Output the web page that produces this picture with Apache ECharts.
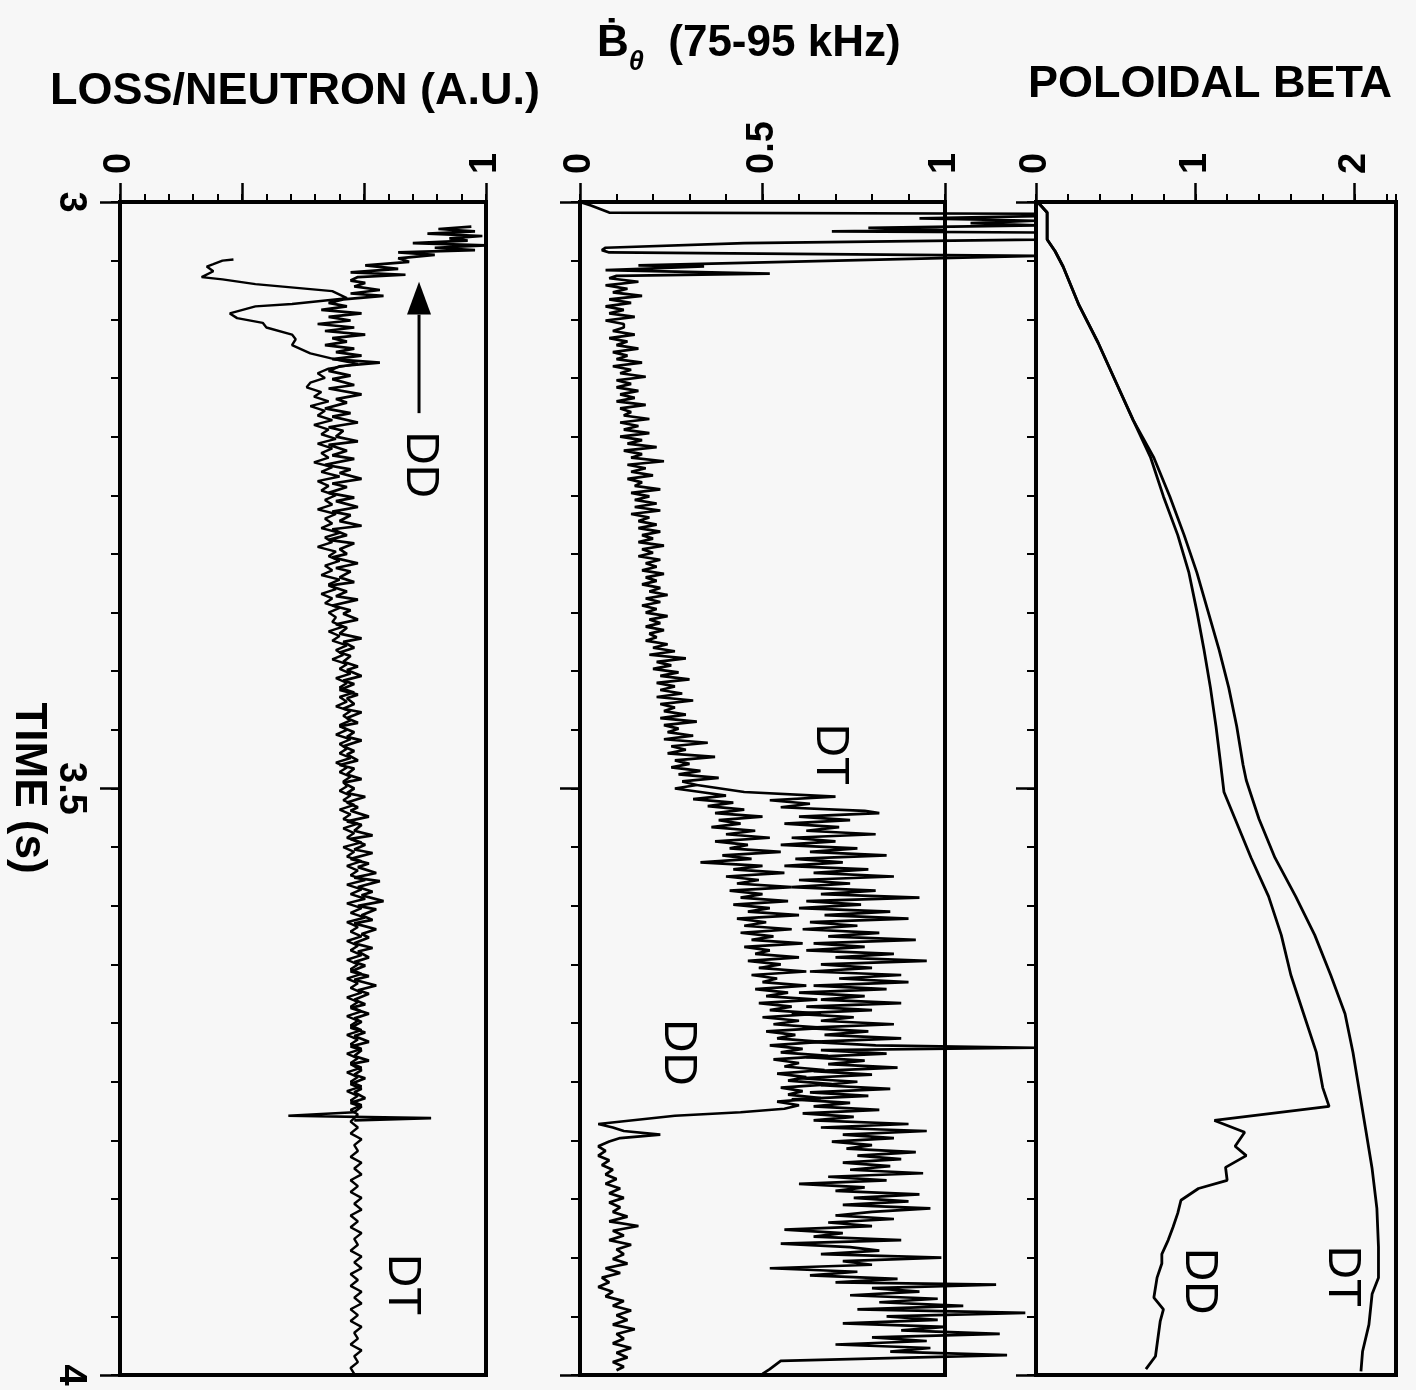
<!DOCTYPE html>
<html><head><meta charset="utf-8">
<script src="https://cdn.jsdelivr.net/npm/echarts@6/dist/echarts.min.js"></script>
<style>html,body{margin:0;padding:0;background:#f7f7f7}#c{width:1416px;height:1390px}</style>
</head><body><div id="c"></div>
<script>
// ---- titles / tick labels ----
const panelTitles = ['LOSS/NEUTRON (A.U.)', '(75-95 kHz)', 'POLOIDAL BETA'];
const timeLabelTicks = [3000, 3500, 4000];           // ms -> labelled 3, 3.5, 4
const lossMajorTicks = [0, 1/3, 2/3, 1];
const lossLabelTicks = [0, 1];
const bdotMajorTicks = [0, 0.5, 1];
const betaMajorTicks = [0, 1, 2];

// ---- data: [time (ms), value] ----
const lossDD = [[3021,.96],[3023,.87],[3025,.97],[3027,.84],[3029,.99],[3031,.90],[3033,.95],[3035,.80],[3037,1.0],[3039,.86],[3041,.97],[3043,.76],[3045,.86],[3048,.76],[3051,.79],[3054,.67],[3057,.76],[3060,.63],[3062,.78],[3064,.65],[3067,.63],[3069,.67],[3072,.64],[3075,.71],[3078,.63],[3080,.72],[3083,.61],[3086,.57],
[3089,.62],[3092,.55],[3095,.66],[3098,.57],[3101,.63],[3104,.54],[3107,.64],[3110,.56],[3113,.67],[3116,.58],[3119,.62],[3122,.56],[3125,.64],[3128,.59],[3131,.66],[3134,.58],[3137,.71],[3140,.60],[3144,.57],[3148,.63],[3151,.58],[3156,.64],[3159,.57],[3164,.66],[3168,.59],[3171,.62],[3176,.56],[3180,.63],[3183,.58],[3188,.65],[3192,.57],[3195,.61],[3200,.59],[3204,.65],[3207,.57],[3212,.62],[3216,.58],[3219,.64],[3224,.56],[3228,.63],[3231,.60],[3236,.66],[3240,.58],[3243,.62],[3248,.57],[3252,.64],[3255,.59],[3260,.65],[3264,.58],[3267,.63],[3272,.60],[3276,.66],[3279,.58],[3284,.62],[3288,.57],[3291,.64],[3296,.60],[3300,.62],[3303,.58],[3308,.65],[3312,.59],[3315,.63],[3320,.60],[3324,.64],[3327,.57],[3332,.62],[3336,.59],[3339,.65],[3344,.58],[3348,.63],[3351,.61],[3356,.65],[3360,.59],[3363,.62],[3368,.60],[3372,.66],[3375,.61],[3380,.64],[3384,.60],[3387,.63],[3392,.61],[3396,.65],[3399,.62],[3404,.66],[3408,.61],[3411,.64],[3416,.60],[3420,.65],[3423,.62],[3428,.64],[3432,.61],[3435,.66],[3440,.62],[3444,.65],[3447,.60],[3452,.64],[3456,.62],[3459,.66],[3464,.61],[3468,.64],[3471,.62],[3476,.65],[3480,.60],[3483,.64],[3488,.62],[3492,.66],[3495,.61],[3500,.64],[3504,.62],[3507,.67],[3512,.62],[3516,.65],[3519,.63],[3524,.68],[3528,.62],[3531,.66],[3536,.64],[3540,.69],[3543,.63],[3548,.67],[3552,.64],[3555,.69],[3560,.63],[3564,.68],[3567,.65],[3572,.70],[3576,.64],[3579,.71],[3584,.65],[3588,.69],[3591,.66],[3596,.72],[3600,.65],[3603,.70],[3608,.66],[3612,.69],[3615,.64],[3620,.70],[3624,.66],[3627,.68],[3632,.64],[3636,.69],[3639,.65],[3644,.68],[3648,.64],[3651,.67],[3656,.63],[3660,.68],[3663,.64],[3668,.70],[3672,.65],[3675,.68],[3680,.64],[3684,.67],[3687,.63],[3692,.68],[3696,.64],[3699,.66],[3704,.63],[3708,.67],[3711,.64],[3716,.68],[3720,.63],[3723,.66],[3728,.64],[3732,.68],[3735,.63],[3740,.66],[3744,.64],[3747,.67],[3752,.63],[3756,.66],[3759,.64],[3764,.67],[3768,.63],[3771,.66],[3776,.64],[3779,.46],[3781,.85],[3783,.64]];

const lossDT = [[3049,.31],[3050,.28],[3053,.255],[3055,.237],[3059,.255],[3064,.223],[3066,.28],[3070,.37],[3076,.58],[3082,.62],[3087,.47],[3089,.37],[3095,.30],[3099,.32],[3103,.39],[3107,.40],[3113,.47],[3117,.48],[3122,.47],[3129,.52],[3135,.60],[3138,.65],[3142,.57],[3146,.54],[3150,.56],[3154,.52],[3158,.51],[3162,.55],[3166,.53],[3170,.57],[3174,.52],[3178,.56],[3182,.54],[3186,.58],[3190,.53],[3194,.57],[3198,.55],[3202,.59],[3206,.54],[3210,.58],[3214,.55],[3218,.57],[3222,.53],[3226,.58],[3230,.55],[3234,.60],[3238,.54],[3242,.57],[3246,.55],[3250,.59],[3254,.56],[3258,.58],[3262,.54],[3266,.59],[3270,.56],[3274,.58],[3278,.55],[3282,.60],[3286,.56],[3290,.58],[3294,.54],[3298,.59],[3302,.57],[3306,.60],[3310,.56],[3314,.58],[3318,.55],[3322,.60],[3326,.57],[3330,.59],[3334,.55],[3338,.58],[3342,.56],[3346,.60],[3350,.57],[3354,.59],[3358,.58],[3362,.61],[3366,.57],[3370,.60],[3374,.58],[3378,.62],[3382,.59],[3386,.61],[3390,.58],[3394,.62],[3398,.60],[3402,.63],[3406,.59],[3410,.62],[3414,.60],[3418,.64],[3422,.60],[3426,.62],[3430,.59],[3434,.63],[3438,.61],[3442,.63],[3446,.60],[3450,.62],[3454,.59],[3458,.63],[3462,.60],[3466,.62],[3470,.60],[3474,.63],[3478,.59],[3482,.62],[3486,.60],[3490,.63],[3494,.61],[3498,.62],[3502,.60],[3506,.63],[3510,.61],[3514,.64],[3518,.60],[3522,.63],[3526,.61],[3530,.65],[3534,.61],[3538,.64],[3542,.62],[3546,.66],[3550,.61],[3554,.64],[3558,.62],[3562,.66],[3566,.62],[3570,.65],[3574,.63],[3578,.67],[3582,.62],[3586,.66],[3590,.63],[3594,.67],[3598,.62],[3602,.66],[3606,.63],[3610,.67],[3614,.62],[3618,.65],[3622,.63],[3626,.66],[3630,.62],[3634,.65],[3638,.63],[3642,.66],[3646,.62],[3650,.65],[3654,.63],[3658,.66],[3662,.62],[3666,.65],[3670,.63],[3674,.66],[3678,.62],[3682,.65],[3686,.63],[3690,.66],[3694,.62],[3698,.65],[3702,.63],[3706,.66],[3710,.62],[3714,.65],[3718,.63],[3722,.66],[3726,.62],[3730,.65],[3734,.63],[3738,.66],[3742,.62],[3746,.65],[3750,.63],[3754,.66],[3758,.62],[3762,.65],[3766,.63],[3770,.66],[3774,.63],[3778,.65],
[3784,.63],[3789,.65],[3794,.63],[3799,.66],[3804,.64],[3809,.65],[3814,.63],[3819,.66],[3824,.64],[3829,.66],[3834,.63],[3839,.65],[3844,.63],[3849,.66],[3854,.64],[3859,.66],[3864,.63],[3869,.65],[3874,.63],[3879,.66],[3884,.64],[3889,.65],[3894,.63],[3899,.66],[3904,.64],[3909,.66],[3914,.63],[3919,.65],[3924,.63],[3929,.66],[3934,.64],[3939,.66],[3944,.63],[3949,.65],[3954,.63],[3959,.66],[3964,.64],[3969,.65],[3974,.63],[3979,.66],[3984,.64],[3989,.65],[3994,.63],[3999,.64]];

const bdotDD = [[3000,0],[3003,.03],[3006,.055],[3009,.08],[3010,1.25],[3012,1.25],[3014,.93],[3016,1.25],[3018,1.07],[3020,1.25],[3022,.79],[3024,1.0],[3025,.69],[3026,1.25],[3032,1.25],[3035,.45],[3039,.07],[3041,.06],[3043,.08],[3046,1.25],[3054,.16],[3055,.34],[3058,.07],[3061,.52],[3063,.10],
[3065,.08],[3068,.16],[3071,.07],[3074,.13],[3077,.09],[3080,.17],[3083,.08],[3086,.14],[3089,.07],[3092,.12],[3095,.08],[3098,.15],[3101,.07],[3104,.12],[3107,.12],[3110,.09],[3113,.15],[3116,.08],[3119,.13],[3122,.10],[3125,.16],[3128,.09],[3131,.13],[3134,.10],[3137,.17],[3140,.09],[3143,.14],[3146,.11],[3149,.18],[3152,.10],[3155,.14],[3158,.10],[3161,.16],[3164,.11],[3167,.15],[3170,.10],[3173,.18],[3176,.11],[3179,.14],[3182,.12],[3185,.19],[3188,.11],
[3191,.16],[3194,.12],[3197,.19],[3200,.11],[3203,.17],[3206,.13],[3209,.21],[3212,.12],[3215,.17],[3218,.14],[3221,.23],[3224,.13],[3227,.18],[3230,.14],[3233,.20],[3236,.13],[3239,.17],[3242,.15],[3245,.22],[3248,.14],[3251,.19],[3254,.15],[3257,.21],[3260,.15],[3263,.22],[3266,.14],[3269,.19],[3272,.16],
[3275,.21],[3278,.16],[3281,.22],[3284,.17],[3287,.20],[3290,.16],[3293,.23],[3296,.17],[3299,.20],[3302,.16],[3305,.22],[3308,.18],[3311,.21],[3314,.17],[3317,.23],[3320,.18],[3323,.21],[3326,.17],[3329,.22],
[3332,.19],[3335,.24],[3338,.18],[3341,.22],[3344,.17],[3347,.21],[3350,.18],[3353,.24],[3356,.19],[3359,.22],[3362,.18],[3365,.23],[3368,.19],[3371,.21],[3374,.18],[3377,.24],
[3380,.20],[3383,.26],[3386,.19],[3389,.29],[3392,.21],[3395,.25],[3398,.20],[3401,.27],[3404,.22],[3407,.30],[3410,.21],[3413,.26],[3416,.22],[3419,.28],[3422,.21],[3425,.31],[3428,.22],[3431,.26],[3434,.23],[3437,.29],[3440,.22],[3443,.32],[3446,.23],[3449,.27],
[3452,.24],[3455,.31],[3458,.23],[3461,.35],[3464,.25],[3467,.29],[3470,.24],[3473,.37],[3476,.26],[3479,.30],[3482,.25],[3485,.33],[3488,.27],[3491,.38],[3494,.28],[3497,.32],[3500,.26],
[3503,.33],[3506,.40],[3509,.31],[3512,.42],[3515,.35],[3518,.45],[3521,.37],[3524,.50],[3527,.38],[3530,.44],[3533,.36],[3536,.48],[3539,.40],[3542,.52],[3545,.37],[3548,.46],[3551,.41],[3554,.55],[3557,.39],[3560,.47],[3563,.33],[3566,.50],[3569,.42],[3572,.56],[3575,.40],[3578,.49],[3581,.43],[3584,.58],[3587,.41],[3590,.50],[3593,.44],[3596,.57],[3599,.42],[3602,.52],[3605,.46],[3608,.60],[3611,.43],[3614,.51],[3617,.45],[3620,.58],[3623,.44],[3626,.53],[3629,.47],[3632,.61],[3635,.45],[3638,.52],[3641,.48],[3644,.60],[3647,.46],[3650,.55],[3653,.49],[3656,.62],[3659,.47],[3662,.54],
[3665,.50],[3668,.62],[3671,.48],[3674,.57],[3677,.51],[3680,.65],[3683,.49],[3686,.58],[3689,.52],[3692,.66],[3695,.50],[3698,.60],[3701,.53],[3704,.67],[3707,.51],[3710,.59],[3713,.54],[3716,.66],[3719,.52],[3722,.61],[3725,.55],[3728,.68],[3731,.53],[3734,.60],[3737,.56],[3740,.67],[3743,.54],[3746,.62],[3749,.57],[3752,.69],[3755,.55],[3758,.61],[3761,.57],[3764,.66],[3767,.54],[3770,.60],[3773,.56],[3776,.44],[3779,.26],[3786,.05],
[3789,.09],[3792,.12],[3795,.22],[3798,.11],[3801,.08],[3805,.05],[3809,.07],[3813,.05],[3817,.08],[3821,.06],[3825,.09],[3829,.07],[3833,.10],[3837,.07],[3841,.11],[3845,.08],[3849,.12],[3853,.08],[3857,.11],[3861,.09],[3865,.13],[3869,.08],[3873,.16],[3877,.09],[3881,.12],[3885,.08],[3889,.14],[3893,.10],[3897,.12],[3901,.09],[3905,.13],[3909,.07],[3913,.11],[3917,.06],[3921,.08],[3925,.05],[3929,.09],[3933,.07],[3937,.12],[3941,.09],[3945,.14],[3949,.10],[3953,.13],[3957,.09],[3961,.15],[3965,.10],[3969,.12],[3973,.09],[3977,.14],[3981,.10],[3985,.13],[3989,.09],[3993,.12],[3996,.10]];

const bdotDT = [[3497,.32],[3503,.45],[3507,.70],[3510,.52],[3513,.63],[3516,.55],[3519,.78],[3521,.82],[3524,.60],[3527,.74],[3530,.56],[3533,.71],[3536,.62],[3539,.81],[3542,.58],[3545,.70],[3548,.55],[3551,.76],[3554,.63],[3557,.84],[3560,.59],[3563,.72],[3566,.56],[3569,.79],[3572,.64],[3575,.86],[3578,.60],[3581,.74],[3584,.58],[3587,.81],[3590,.66],[3593,.93],[3596,.62],[3599,.77],[3602,.60],[3605,.85],[3608,.67],[3611,.90],[3614,.63],[3617,.76],[3620,.61],[3623,.82],[3626,.68],[3629,.92],[3632,.64],[3635,.78],[3638,.62],[3641,.86],[3644,.70],[3647,.95],[3650,.66],[3653,.80],[3656,.63],[3659,.88],[3662,.71],
[3665,.90],[3668,.64],[3671,.84],[3674,.60],[3677,.78],[3680,.66],[3683,.88],[3686,.62],[3689,.80],[3692,.58],[3695,.75],[3698,.66],[3701,.86],[3704,.61],[3707,.79],[3710,.67],[3713,.88],[3716,.63],[3719,.81],[3721,1.25],[3723,.66],[3726,.84],[3729,.62],[3732,.78],[3735,.68],[3738,.87],[3741,.64],[3744,.80],[3747,.60],[3750,.76],[3753,.66],[3756,.85],[3759,.63],[3762,.79],[3765,.58],[3768,.74],[3771,.64],[3774,.82],[3777,.61],[3780,.75],[3783,.64],[3786,.90],
[3789,.66],[3792,.95],[3795,.72],[3798,.86],[3801,.69],[3804,.80],[3807,.73],[3810,.92],[3813,.76],[3816,.88],[3819,.72],[3822,.85],[3825,.74],[3828,.94],[3831,.68],[3834,.84],[3837,.60],[3840,.78],[3843,.70],[3846,.93],[3849,.75],[3852,.90],[3855,.72],[3858,.96],[3861,.80],[3864,.70],[3867,.86],[3870,.68],[3873,.80],[3876,.56],[3879,.72],[3882,.64],[3885,.88],[3888,.55],[3891,.74],[3894,.82],[3897,.66],[3900,.99],[3903,.72],[3906,.80],[3909,.52],[3912,.76],[3915,.63],[3918,.87],[3921,.70],[3923,1.14],[3926,.80],[3929,.93],[3932,.74],[3935,.98],[3938,.82],[3941,1.05],[3944,.76],[3947,1.22],[3950,.84],[3953,.98],[3956,.72],[3959,1.0],[3962,.88],[3965,1.15],[3968,.80],[3971,.95],[3974,.70],[3977,.96],[3980,.85],[3983,1.17],[3988,.55],[3995,.52],[3999,.50]];

const betaDD = [[3000,.01],[3009,.07],[3032,.07],[3042,.12],[3055,.17],[3088,.27],[3120,.39],[3153,.50],[3186,.61],[3218,.72],[3251,.80],[3284,.89],[3316,.96],[3349,1.01],[3382,1.055],[3414,1.095],[3447,1.13],[3480,1.16],[3503,1.18],[3526,1.25],[3559,1.35],[3592,1.46],[3625,1.54],[3659,1.60],[3692,1.68],[3725,1.76],[3755,1.80],[3771,1.84],[3783,1.12],[3793,1.31],[3805,1.25],[3813,1.32],[3823,1.19],[3834,1.20],[3841,1.02],[3851,.91],[3862,.89],[3874,.86],[3885,.83],[3897,.79],[3905,.79],[3917,.76],[3934,.74],[3944,.80],[3954,.78],[3964,.77],[3984,.75],[3995,.69]];

const betaDT = [[3000,.01],[3009,.07],[3032,.07],[3042,.12],[3055,.17],[3088,.27],[3120,.39],[3153,.50],[3186,.61],[3218,.74],[3251,.84],[3284,.93],[3316,1.01],[3349,1.08],[3382,1.15],[3414,1.21],[3447,1.26],[3480,1.30],[3493,1.32],[3526,1.40],[3559,1.50],[3592,1.63],[3625,1.75],[3659,1.85],[3692,1.94],[3725,1.99],[3758,2.03],[3791,2.07],[3824,2.11],[3858,2.14],[3891,2.15],[3917,2.15],[3931,2.11],[3957,2.09],[3980,2.05],[3997,2.04]];

// annotations in data units
const notes = [
  {panel:0, text:'DD', v:0.82, t:3224},
  {panel:0, text:'DT', v:0.77, t:3923},
  {panel:1, text:'DT', v:0.685, t:3471},
  {panel:1, text:'DD', v:0.268, t:3725},
  {panel:2, text:'DD', v:1.02, t:3920},
  {panel:2, text:'DT', v:1.92, t:3916}
];
const arrowNote = {panel:0, v:0.817, tFrom:3180, tBase:3096, tTip:3068};

// ---- layout ----
const FONT = '"Liberation Sans", Arial, Helvetica, sans-serif';
const panels = [
  {left:120, width:366, max:1, minor:1/15, major:lossMajorTicks, labels:lossLabelTicks, fmt:v=>String(Math.round(v))},
  {left:580, width:365, max:1, minor:0.1, major:bdotMajorTicks, labels:bdotMajorTicks, fmt:v=>String(v)},
  {left:1036, width:360, max:2.26, minor:0.2, major:betaMajorTicks, labels:betaMajorTicks, fmt:v=>String(v)}
];
const TOP = 202, HEIGHT = 1173;
const BDOT_OVER = 1.3;   // plotting range of the B-dot traces (spikes run past the frame)

const grids = [], xAxes = [], yAxes = [];
panels.forEach((p, i) => {
  grids.push({left:p.left, top:TOP, width:p.width, height:HEIGHT, show:true, borderColor:'#000', borderWidth:4, backgroundColor:'transparent'});
  const base = {type:'value', gridIndex:i, position:'top', min:0, max:p.max, axisLine:{show:false}, splitLine:{show:false}};
  xAxes.push(Object.assign({}, base, {interval:p.minor, axisTick:{show:true, inside:false, length:8, lineStyle:{color:'#000', width:2}}, axisLabel:{show:false}}));
  xAxes.push(Object.assign({}, base, {
    axisTick:{show:true, inside:false, length:19, customValues:p.major, lineStyle:{color:'#000', width:2.5}},
    axisLabel:{show:true, customValues:p.labels, rotate:-90, margin:28, fontSize:38, fontWeight:'bold', fontFamily:FONT, color:'#000', formatter:p.fmt}
  }));
  const ybase = {type:'value', gridIndex:i, position:'left', inverse:true, min:3000, max:4000, axisLine:{show:false}, splitLine:{show:false}};
  yAxes.push(Object.assign({}, ybase, {interval:50, axisTick:{show:true, inside:false, length:9, lineStyle:{color:'#000', width:2}}, axisLabel:{show:false}}));
  yAxes.push(Object.assign({}, ybase, {
    axisTick:{show:true, inside:false, length:20, customValues:timeLabelTicks, lineStyle:{color:'#000', width:2.5}},
    axisLabel:{show:i===0, customValues:timeLabelTicks, rotate:-90, margin:31, fontSize:38, fontWeight:'bold', fontFamily:FONT, color:'#000', formatter:v=>String(v/1000)}
  }));
});
// hidden, wider plotting grid for the B-dot panel (same scale, extends to 1.3)
grids.push({left:panels[1].left, top:TOP, width:panels[1].width * BDOT_OVER / panels[1].max, height:HEIGHT, show:false});
xAxes.push({type:'value', gridIndex:3, min:0, max:BDOT_OVER, show:false});
yAxes.push({type:'value', gridIndex:3, inverse:true, min:3000, max:4000, show:false});

function lineSeries(name, data, xi, yi, width) {
  return {name, type:'line', data:data.map(d => [d[1], d[0]]), xAxisIndex:xi, yAxisIndex:yi,
    showSymbol:false, symbol:'none', clip:false, silent:true, animation:false,
    lineStyle:{color:'#000', width:width}, z:5};
}

const option = {
  backgroundColor:'#f7f7f7',
  animation:false,
  grid:grids, xAxis:xAxes, yAxis:yAxes,
  series:[
    lineSeries('Loss DD', lossDD, 0, 0, 2.7),
    lineSeries('Loss DT', lossDT, 0, 0, 2.4),
    lineSeries('Bdot DD', bdotDD, 6, 6, 2.7),
    lineSeries('Bdot DT', bdotDT, 6, 6, 2.7),
    lineSeries('Beta DD', betaDD, 4, 4, 2.8),
    lineSeries('Beta DT', betaDT, 4, 4, 2.8)
  ]
};

const chart = echarts.init(document.getElementById('c'), null, {renderer:'canvas'});
chart.setOption(option);

// ---- text and arrow placed from data coordinates ----
const px = (panel, v, t) => chart.convertToPixel({xAxisIndex:panel*2, yAxisIndex:panel*2}, [v, t]);
const graphics = [];
notes.forEach(n => {
  const p = px(n.panel, n.v, n.t);
  graphics.push({type:'text', x:p[0], y:p[1], rotation:-Math.PI/2, z:10,
    style:{text:n.text, fill:'#000', font:'46px ' + FONT, textAlign:'center', textVerticalAlign:'middle'}});
});
const aFrom = px(arrowNote.panel, arrowNote.v, arrowNote.tFrom);
const aBase = px(arrowNote.panel, arrowNote.v, arrowNote.tBase);
const aTip = px(arrowNote.panel, arrowNote.v, arrowNote.tTip);
graphics.push({type:'line', z:10, shape:{x1:aFrom[0], y1:aFrom[1], x2:aBase[0], y2:aBase[1]}, style:{stroke:'#000', lineWidth:3}});
graphics.push({type:'polygon', z:10, shape:{points:[[aTip[0], aTip[1]], [aBase[0]-12, aBase[1]], [aBase[0]+12, aBase[1]]]}, style:{fill:'#000'}});

// titles
graphics.push({type:'text', x:295, y:92, z:10, style:{text:panelTitles[0], fill:'#000', font:'bold 45px ' + FONT, textAlign:'center', textVerticalAlign:'middle'}});
graphics.push({type:'text', x:1210, y:85, z:10, style:{text:panelTitles[2], fill:'#000', font:'bold 45px ' + FONT, textAlign:'center', textVerticalAlign:'middle'}});
graphics.push({type:'text', x:597, y:44, z:10, style:{
  text:'{b|Ḃ}{s|θ}{n|  ' + panelTitles[1] + '}', textAlign:'left', textVerticalAlign:'middle',
  rich:{
    b:{fontSize:44, fontWeight:'bold', fontFamily:FONT, fill:'#000', lineHeight:64, verticalAlign:'middle'},
    s:{fontSize:27, fontWeight:'bold', fontStyle:'italic', fontFamily:FONT, fill:'#000', lineHeight:27, verticalAlign:'bottom'},
    n:{fontSize:44, fontWeight:'bold', fontFamily:FONT, fill:'#000', lineHeight:64, verticalAlign:'middle'}
  }}});
graphics.push({type:'text', x:28, y:788, rotation:-Math.PI/2, z:10, style:{text:'TIME (s)', fill:'#000', font:'bold 44px ' + FONT, textAlign:'center', textVerticalAlign:'middle'}});

chart.setOption({graphic:graphics});
</script>
</body></html>
